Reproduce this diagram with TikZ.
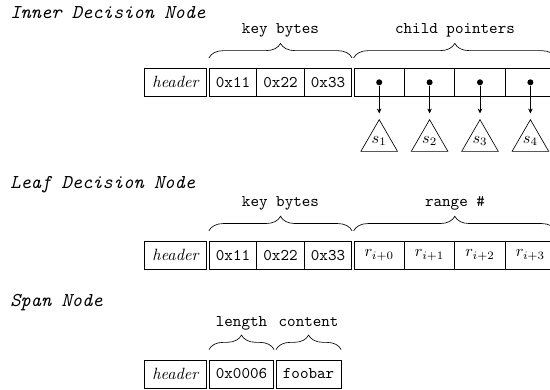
\documentclass[tikz,border=0pt]{standalone}
\usetikzlibrary{decorations.pathreplacing,shapes.geometric,arrows.meta}
\newlength\pu
\setlength\pu{0.6135pt}
\begin{document}
\begin{tikzpicture}[x=\pu,y=-\pu,
  cell/.style={draw, minimum height=28.3\pu, inner sep=0, line width=0.4pt},
  hcell/.style={cell, minimum width=62.4\pu, font=\itshape},
  kcell/.style={cell, minimum width=47.5\pu, font=\ttfamily},
  ccell/.style={cell, minimum width=50.4\pu},
  scell/.style={cell, minimum width=64.5\pu, font=\ttfamily},
  title/.style={font=\large\ttfamily\itshape, anchor=base west, inner sep=0},
  lbl/.style={font=\ttfamily, anchor=base, inner sep=0},
  brc/.style={decorate, decoration={brace, amplitude=8.9pt}},
  dotn/.style={circle, fill, inner sep=0, minimum size=3.7pt},
  tri/.style={draw, regular polygon, regular polygon sides=3, minimum size=24.8pt, inner sep=0},
  ptr/.style={-{Stealth[length=3pt, width=2.8pt]}, shorten >=3.4pt}]
\clip (0,0) rectangle (550,389);

% ---------- Inner Decision Node ----------
\node[title] (t1) at (10,18.4) {Inner Decision Node};
\node[hcell] (ih) at (175.5,82.3) {header};
\node[kcell] (ik1) at (233,82.3) {0x11};
\node[kcell] (ik2) at (280.5,82.3) {0x22};
\node[kcell] (ik3) at (328,82.3) {0x33};
\node[ccell] (ic1) at (379.2,82.3) {};
\node[ccell] (ic2) at (429.6,82.3) {};
\node[ccell] (ic3) at (480,82.3) {};
\node[ccell] (ic4) at (530.4,82.3) {};
\foreach \i/\x in {1/379.2,2/429.6,3/480,4/530.4}{
  \node[dotn] (id\i) at (\x,82.3) {};
  \node[tri] (is\i) at (\x,140.8) {$s_{\i}$};
  \draw[ptr] (id\i) -- (is\i.corner 1);
}
\draw[brc] ([yshift=6.1pt]ik1.north west) -- ([yshift=6.1pt]ik3.north east);
\draw[brc] ([yshift=6.1pt]ic1.north west) -- ([yshift=6.1pt]ic4.north east);
\node[lbl] (ilk) at (280.5,33.2) {key bytes};
\node[lbl] (ilc) at (455,33.2) {child pointers};

% ---------- Leaf Decision Node ----------
\node[title] (t2) at (10,188.5) {Leaf Decision Node};
\node[hcell] (lh) at (175.5,255.2) {header};
\node[kcell] (lk1) at (233,255.2) {0x11};
\node[kcell] (lk2) at (280.5,255.2) {0x22};
\node[kcell] (lk3) at (328,255.2) {0x33};
\node[ccell] (lr1) at (379.2,255.2) {$r_{i+0}$};
\node[ccell] (lr2) at (429.6,255.2) {$r_{i+1}$};
\node[ccell] (lr3) at (480,255.2) {$r_{i+2}$};
\node[ccell] (lr4) at (530.4,255.2) {$r_{i+3}$};
\draw[brc] ([yshift=6.1pt]lk1.north west) -- ([yshift=6.1pt]lk3.north east);
\draw[brc] ([yshift=6.1pt]lr1.north west) -- ([yshift=6.1pt]lr4.north east);
\node[lbl] (llk) at (280.5,206) {key bytes};
\node[lbl] (llr) at (455,206) {range \#};

% ---------- Span Node ----------
\node[title] (t3) at (10,306.5) {Span Node};
\node[hcell] (sh) at (175.3,374) {header};
\node[scell] (sl) at (241.5,374) {0x0006};
\node[scell] (sc) at (308.6,374) {foobar};
\draw[brc] ([yshift=6.1pt]sl.north west) -- ([yshift=6.1pt]sl.north east);
\draw[brc] ([yshift=6.1pt]sc.north west) -- ([yshift=6.1pt]sc.north east);
\node[lbl] (sll) at (241.5,326) {length};
\node[lbl] (slc) at (308.6,326) {content};
\end{tikzpicture}
\end{document}
